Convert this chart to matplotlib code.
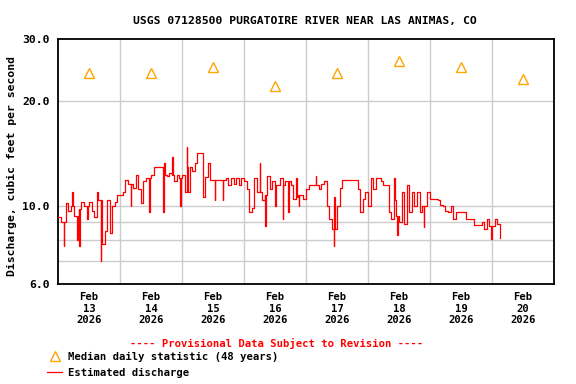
import matplotlib
matplotlib.use('Agg')
import matplotlib.pyplot as plt
from matplotlib.lines import Line2D
from matplotlib.ticker import FixedLocator, NullLocator

# hourly discharge, cfs (Feb 13 00:00 onwards)
feb13 = [9.3, 9.0, 9.0, 10.2, 9.7, 10.0, 9.4, 9.4, 9.8, 10.3, 10.0, 10.0,
         10.3, 9.7, 9.3, 10.4, 10.4, 7.8, 8.5, 10.4, 8.4, 10.0, 10.3, 10.8]
feb14 = [10.8, 11.0, 11.9, 11.6, 11.6, 11.3, 12.3, 11.2, 10.2, 11.8, 12.0, 12.0,
         12.3, 12.9, 12.9, 12.9, 12.9, 12.3, 12.2, 12.4, 12.3, 11.8, 12.3, 12.0]
feb15 = [12.3, 11.0, 12.9, 12.9, 12.6, 13.3, 14.2, 14.2, 10.6, 12.1, 13.3, 11.9,
         11.9, 11.9, 11.9, 11.9, 11.9, 12.0, 11.5, 12.0, 11.6, 12.0, 11.5, 12.0]
feb16 = [11.8, 11.2, 9.6, 9.9, 12.0, 11.0, 11.0, 10.4, 10.8, 12.2, 11.2, 11.8,
         11.5, 11.5, 12.0, 11.5, 11.8, 11.8, 11.5, 10.5, 10.6, 10.8, 10.8, 10.5]
feb17 = [11.2, 11.5, 11.5, 11.5, 11.6, 11.2, 11.6, 11.8, 10.0, 9.2, 8.6, 10.6,
         10.0, 11.3, 11.9, 11.9, 11.9, 11.9, 11.9, 11.9, 11.2, 9.6, 10.5, 11.0]
feb18 = [10.0, 12.0, 11.2, 12.0, 12.0, 11.8, 11.5, 11.5, 9.6, 9.2, 10.4, 9.4,
         9.0, 11.0, 8.9, 11.5, 9.6, 11.0, 10.0, 11.0, 9.6, 10.0, 10.0, 11.0]
feb19 = [10.5, 10.5, 10.5, 10.4, 10.1, 10.0, 9.7, 9.6, 10.0, 9.2, 9.6, 9.6,
         9.6, 9.6, 9.2, 9.2, 9.2, 8.85, 8.85, 8.85, 9.0, 8.6, 9.2, 8.8]
feb20 = [8.8, 9.2, 8.9, 8.1]
flow = feb13 + feb14 + feb15 + feb16 + feb17 + feb18 + feb19 + feb20

# single 15-minute readings that stick out of the hourly level (hour, cfs)
spike_hours = [2.2, 5.4, 7.5, 8.2, 11.3, 15.2, 16.5,
               28.1, 35.2, 40.6, 41.0, 44.1, 47.4,
               49.9, 60.7, 63.8,
               78.0, 80.2, 84.1, 87.0, 89.2, 92.1, 93.2,
               99.8, 106.8,
               130.2, 131.2, 141.5,
               167.7]
spike_vals = [7.7, 11.0, 8.0, 7.7, 9.2, 11.0, 7.0,
              10.0, 9.6, 9.6, 13.3, 13.8, 10.0,
              14.8, 10.4, 10.4,
              13.3, 8.8, 10.0, 9.2, 9.6, 12.0, 10.0,
              12.2, 7.7,
              12.0, 8.3, 8.7,
              8.05]

days = ['13', '14', '15', '16', '17', '18', '19', '20']
median_vals = [24, 24, 25, 22, 24, 26, 25, 23]

plt.rcParams['font.family'] = 'DejaVu Sans Mono'
plt.rcParams['font.weight'] = 'bold'

W, H = 576, 384
fig = plt.figure(figsize=(W / 100, H / 100), dpi=100)
ax = fig.add_axes([58 / W, 1 - 284 / H, 496 / W, 245 / H])

events = [(h, v) for h, v in enumerate(flow)]
for sh, sv in zip(spike_hours, spike_vals):
    events.append((sh, sv))
    events.append((sh + 0.25, flow[int(sh)]))
events.sort()
ax.plot([e[0] for e in events], [e[1] for e in events], drawstyle='steps-post',
        color='red', lw=0.9, zorder=3)

median_hours = [12 + 24 * i for i in range(len(days))]
ax.plot(median_hours, median_vals, '^', mfc='none', mec='#ffa500', ms=7,
        mew=1, zorder=4)

ax.set_yscale('log')
ax.set_ylim(6, 30)
ax.set_xlim(0, 24 * len(days))
ax.yaxis.set_major_locator(FixedLocator([6, 10, 20, 30]))
ax.yaxis.set_minor_locator(NullLocator())
ax.set_yticklabels(['6.0', '10.0', '20.0', '30.0'])
ax.set_xticks(median_hours)
ax.set_xticklabels(['Feb\n%s\n2026' % d for d in days], linespacing=1.15)
ax.tick_params(axis='both', length=0, labelsize=7.6)
ax.tick_params(axis='y', pad=6, labelsize=8.2)
ax.tick_params(axis='x', pad=6)

for v in [7, 8, 9, 10, 20]:
    ax.axhline(v, color='#cccccc', lw=1, zorder=1)
for d in range(1, len(days)):
    ax.axvline(24 * d, color='#cccccc', lw=1, zorder=1)

for s in ax.spines.values():
    s.set_linewidth(1.3)

fig.text(305 / W, 1 - 21 / H, 'USGS 07128500 PURGATOIRE RIVER NEAR LAS ANIMAS, CO',
         ha='center', va='center', fontsize=8.2)
fig.text(12 / W, 1 - 166 / H, 'Discharge, cubic feet per second', rotation=90,
         ha='center', va='center', fontsize=8.2)
fig.text(277 / W, 1 - 343 / H, '---- Provisional Data Subject to Revision ----',
         ha='center', va='center', fontsize=7.6, color='red')

# legend drawn by hand
fig.add_artist(Line2D([55 / W], [1 - 356 / H], marker='^', mfc='none',
                      mec='#ffa500', ms=7, mew=1, transform=fig.transFigure))
fig.text(68 / W, 1 - 357 / H, 'Median daily statistic (48 years)',
         ha='left', va='center', fontsize=7.6)
fig.add_artist(Line2D([47 / W, 62 / W], [1 - 372 / H, 1 - 372 / H], color='red',
                      lw=0.9, transform=fig.transFigure))
fig.text(68 / W, 1 - 373 / H, 'Estimated discharge',
         ha='left', va='center', fontsize=7.6)

fig.savefig('out.png', dpi=100, facecolor='white')
